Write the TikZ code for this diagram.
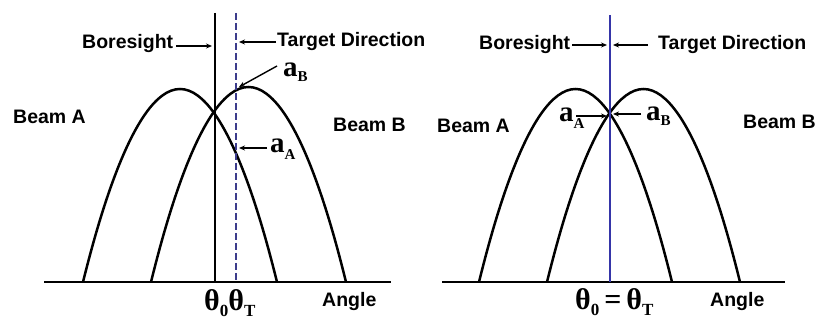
\documentclass[tikz,border=0pt]{standalone}
\usepackage{fontspec}
\setmainfont{Liberation Sans}
\newfontfamily\serifb{Liberation Serif}
\usetikzlibrary{arrows.meta}
\definecolor{navyd}{HTML}{3C3C8C}
\definecolor{blueln}{HTML}{3535A8}
\begin{document}
\begin{tikzpicture}[x=1pt,y=-1pt,
  curve/.style={line width=2.5pt},
  axis/.style={line width=2.8pt},
  lbl/.style={font=\fontsize{19.5}{22}\selectfont\bfseries, inner sep=0pt},
  mlbl/.style={font=\fontsize{29}{30}\selectfont\serifb\bfseries, inner sep=0pt},
  tlbl/.style={font=\fontsize{30}{32}\selectfont\serifb\bfseries, inner sep=0pt},
  ptr/.style={line width=1.4pt, -{Stealth[length=6pt,width=5pt]}}]
\useasboundingbox (0,0) rectangle (817,320);
% ---------------- left panel ----------------
\coordinate (L0) at (44,282);
\coordinate (L1) at (391,282);
\draw[axis] (L0) -- (L1);
\draw[curve] (83,282) parabola bend (180,89) (277,282);
\draw[curve] (151,282) parabola bend (248.5,87) (346,282);
\coordinate (bsT) at (215,13);
\coordinate (bsB) at (215,282);
\draw[line width=2.2pt] (bsT) -- (bsB);
\coordinate (tdT) at (236,13);
\coordinate (tdB) at (236,282);
\draw[navyd, line width=2.2pt, dash pattern=on 7pt off 3pt] (tdT) -- (tdB);
\node[lbl, anchor=west] (boreL) at (82,44) {Boresight};
\coordinate (boreLt) at (212,46);
\draw[ptr] ([xshift=3pt,yshift=-2pt]boreL.east) -- (boreLt);
\node[lbl, anchor=west] (tgtL) at (277,42) {Target Direction};
\coordinate (tgtLt) at (239,42);
\draw[ptr] ([xshift=-1pt]tgtL.west) -- (tgtLt);
\node[mlbl, anchor=base west] (aBL) at (283,77) {a\raisebox{-5pt}{\fontsize{15}{15}\selectfont B}};
\coordinate (aBLt) at (239,87);
\draw[ptr] (277,66) -- (aBLt);
\node[mlbl, anchor=base west] (aAL) at (270,153) {a\raisebox{-7pt}{\fontsize{15}{15}\selectfont A}};
\coordinate (aALt) at (239,148);
\draw[ptr] ([xshift=-3pt]aAL.west |- aALt) -- (aALt);
\node[lbl, anchor=west] (bAL) at (13,117) {Beam A};
\node[lbl, anchor=west] (bBL) at (333,125) {Beam B};
\node[tlbl, anchor=base west] (thL) at (204,311) {θ\raisebox{-6pt}{\fontsize{17}{17}\selectfont 0}θ\raisebox{-6pt}{\fontsize{17}{17}\selectfont T}};
\node[lbl, anchor=base west] (angL) at (322,307) {Angle};
% ---------------- right panel ----------------
\coordinate (R0) at (442,282);
\coordinate (R1) at (785,282);
\draw[axis] (R0) -- (R1);
\draw[curve] (479,282) parabola bend (575.5,89) (672,282);
\draw[curve] (547,282) parabola bend (643.5,89) (740,282);
\coordinate (vT) at (610,15);
\coordinate (vB) at (610,282);
\draw[blueln, line width=2.4pt] (vT) -- (vB);
\node[lbl, anchor=west] (boreR) at (479,45) {Boresight};
\coordinate (boreRt) at (607,45);
\draw[ptr] ([xshift=2pt]boreR.east) -- (boreRt);
\node[lbl, anchor=west] (tgtR) at (658,45) {Target Direction};
\coordinate (tgtRt) at (613,45);
\draw[ptr] ([xshift=-10pt]tgtR.west) -- (tgtRt);
\node[mlbl, anchor=base west] (aAR) at (559,122) {a\raisebox{-7pt}{\fontsize{15}{15}\selectfont A}};
\coordinate (aARt) at (607,116);
\draw[ptr] (576,116) -- (aARt);
\node[mlbl, anchor=base west] (aBR) at (646,121) {a\raisebox{-5pt}{\fontsize{15}{15}\selectfont B}};
\coordinate (aBRt) at (613,114);
\draw[ptr] ([xshift=-5pt]aBR.west |- aBRt) -- (aBRt);
\node[lbl, anchor=west] (bAR) at (437,126) {Beam A};
\node[lbl, anchor=west] (bBR) at (743,122) {Beam B};
\node[tlbl, anchor=base west] (thR) at (575,310) {θ\raisebox{-6pt}{\fontsize{17}{17}\selectfont 0}\,=\,θ\raisebox{-6pt}{\fontsize{17}{17}\selectfont T}};
\node[lbl, anchor=base west] (angR) at (710,307) {Angle};
\end{tikzpicture}
\end{document}
